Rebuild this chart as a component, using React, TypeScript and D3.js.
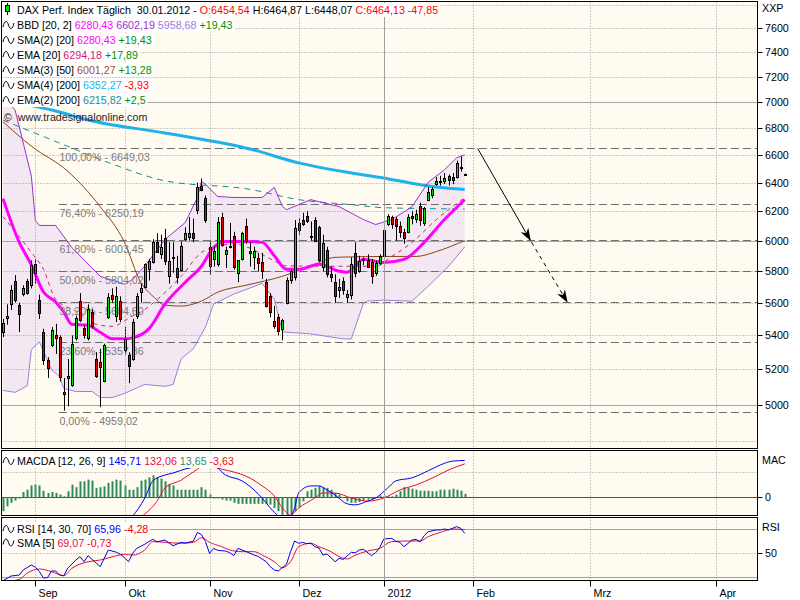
import React, { useEffect, useRef } from "react";
import * as d3 from "d3";

const FONT = "'Liberation Sans', Arial, sans-serif";
const FS = 10.7;
const BG = "#FFFBF0";

// ---------- price data (bar index 0 = 22.08.2011 ... 114 = 30.01.2012) ----------
const opens = [
  5420, 5505, 5590, 5735, 5585, 5655, 5735, 5710, 5845, 5620,
  5420, 5255, 5340, 5400, 5390, 5060, 5150, 5110, 5385, 5610,
  5445, 5385, 5545, 5260, 5245, 5130, 5510, 5650, 5520, 5610,
  5310, 5285, 5260, 5520, 5665, 5700, 5815, 5860, 5990, 5915,
  6020, 5770, 5885, 5820, 5810, 6010, 6025, 6050, 6212, 6380,
  6290, 5960, 5880, 5845, 6160, 5910, 5955, 6030, 5790, 5880,
  6100, 5920, 5895, 5885, 5860, 5730, 5640, 5485, 5510, 5440,
  5600, 5745, 5760, 6120, 6140, 6170, 6035, 6140, 6090, 5830,
  5940, 5780, 5730, 5680, 5740, 5635, 5650, 5920, 5800, 5880,
  5875, 5860, 5790, 5855, 5900, 6110, 6160, 6150, 6100, 6060,
  6060, 6170, 6150, 6240, 6120, 6280, 6310, 6390, 6410, 6410,
  6450, 6440, 6440, 6515, 6454.54,
];
const highs = [
  5500, 5590, 5710, 5775, 5600, 5710, 5750, 5870, 5880, 5650,
  5440, 5270, 5450, 5470, 5400, 5150, 5260, 5400, 5520, 5660,
  5460, 5590, 5560, 5300, 5320, 5350, 5660, 5690, 5700, 5640,
  5450, 5300, 5500, 5660, 5720, 5850, 5880, 6010, 6050, 6040,
  6080, 5990, 5990, 5900, 5995, 6090, 6160, 6150, 6400, 6430,
  6310, 6000, 5962, 6160, 6190, 5960, 6120, 6060, 5870, 6060,
  6150, 5990, 5960, 5920, 5920, 5750, 5660, 5580, 5530, 5500,
  5760, 5810, 6140, 6150, 6190, 6200, 6130, 6160, 6100, 6040,
  5960, 5830, 5780, 5750, 5760, 5680, 5890, 5990, 5900, 5890,
  5910, 5880, 5870, 5910, 6090, 6180, 6170, 6160, 6130, 6080,
  6180, 6200, 6210, 6260, 6230, 6370, 6370, 6440, 6450, 6470,
  6460, 6470, 6560, 6590, 6464.87,
];
const lows = [
  5390, 5465, 5555, 5600, 5420, 5640, 5650, 5690, 5720, 5500,
  5225, 5150, 5330, 5290, 5130, 4966, 4990, 5100, 5370, 5480,
  5380, 5370, 5440, 5150, 4985, 5125, 5500, 5600, 5480, 5480,
  5290, 5120, 5250, 5500, 5600, 5690, 5740, 5850, 5920, 5880,
  5840, 5720, 5790, 5720, 5800, 6000, 6000, 5990, 6180, 6340,
  6120, 5780, 5830, 5830, 5960, 5820, 5950, 5810, 5730, 5870,
  5980, 5830, 5810, 5800, 5750, 5570, 5510, 5440, 5400, 5370,
  5590, 5720, 5740, 6040, 6100, 6120, 6000, 5990, 5860, 5800,
  5760, 5730, 5600, 5630, 5650, 5600, 5620, 5760, 5790, 5840,
  5830, 5720, 5770, 5840, 5890, 6100, 6080, 6000, 6020, 5980,
  6050, 6110, 6120, 6100, 6100, 6270, 6290, 6380, 6380, 6390,
  6380, 6390, 6430, 6480, 6448.07,
];
const closes = [
  5475, 5520, 5680, 5620, 5530, 5690, 5660, 5840, 5790, 5536,
  5255, 5205, 5430, 5385, 5157, 5072, 5160, 5350, 5505, 5495,
  5405, 5560, 5455, 5160, 5215, 5340, 5635, 5625, 5640, 5500,
  5376, 5217, 5480, 5645, 5690, 5845, 5865, 5990, 5925, 5955,
  5865, 5865, 5890, 5760, 5962, 6055, 6055, 6020, 6370, 6350,
  6141, 5835, 5935, 6125, 5970, 5940, 5965, 5830, 5870, 6050,
  6000, 5935, 5930, 5855, 5800, 5580, 5545, 5455, 5425, 5492,
  5745, 5800, 6088, 6070, 6110, 6130, 6030, 6000, 5875, 5986,
  5785, 5760, 5640, 5700, 5680, 5655, 5846, 5790, 5865, 5870,
  5830, 5771, 5850, 5898, 6075, 6166, 6111, 6096, 6057, 6017,
  6162, 6152, 6179, 6143, 6220, 6332, 6354, 6416, 6404, 6436,
  6419, 6422, 6539, 6512, 6464.13,
];

// ---------- indicator lines (bar index, value) ----------
const sma200Idx = [0, 14, 21, 40, 61, 73, 86, 94, 102, 107, 114];
const sma200Val = [7018, 6925, 6863, 6765, 6645, 6543, 6470, 6434, 6391, 6370, 6352.27];
const ema200Idx = [0, 14, 26, 40, 61, 73, 86, 94, 114];
const ema200Val = [6862, 6689, 6546, 6414, 6353, 6281, 6246, 6225, 6215.82];
const sma50Idx = [0, 7, 16, 24, 30, 34, 37, 40, 44, 49, 53, 60, 69, 77, 82, 94, 102, 107, 114];
const sma50Val = [6849, 6666, 6482, 6232, 5989, 5729, 5641, 5585, 5579, 5610, 5666, 5710, 5767, 5845, 5890, 5896, 5896, 5928, 6001.27];
const ema20Idx = [0, 7, 10, 13, 18, 23, 27, 32, 34, 39, 44, 49, 53, 57, 61, 66, 70, 80, 92, 96, 101, 107, 114];
const ema20Val = [6163, 5922, 5812, 5622, 5548, 5467, 5455, 5518, 5542, 5641, 5767, 5922, 5962, 5980, 5950, 5880, 5835, 5832, 5832, 5896, 5989, 6143, 6294.18];
const sma20Idx = [0, 4, 7, 10, 13, 15, 17, 21, 24, 27, 30, 32, 36, 40, 45, 49, 52, 55, 60, 64, 67, 70, 73, 78, 83, 85, 89, 94, 99, 104, 109, 114];
const sma20Val = [6288, 5990, 5840, 5667, 5605, 5543, 5467, 5461, 5419, 5379, 5379, 5385, 5439, 5592, 5729, 5832, 5955, 5995, 5995, 5989, 5900, 5812, 5812, 5845, 5800, 5793, 5877, 5857, 5877, 5989, 6143, 6280.43];
const bbUpIdx = [0, 3, 5, 7, 8, 9, 13, 17, 24, 30, 32, 35, 40, 45, 48, 49, 50, 53, 57, 64, 67, 69, 70, 76, 78, 83, 89, 92, 96, 101, 105, 109, 112, 114];
const bbUpVal = [7055, 6938, 6690, 6447, 6137, 6103, 6103, 5955, 5767, 5716, 5748, 5832, 6009, 6123, 6296, 6411, 6389, 6303, 6296, 6296, 6367, 6232, 6211, 6281, 6267, 6232, 6143, 6109, 6143, 6232, 6404, 6493, 6580, 6602.19];
const bbLoIdx = [0, 3, 6, 7, 9, 12, 14, 15, 18, 22, 24, 27, 30, 35, 40, 42, 44, 47, 50, 52, 57, 64, 67, 69, 76, 84, 86, 89, 90, 94, 101, 105, 110, 114];
const bbLoVal = [5079, 5068, 5106, 5314, 5361, 5197, 5157, 5090, 5073, 5073, 5039, 5039, 5062, 5113, 5102, 5113, 5261, 5320, 5451, 5592, 5654, 5722, 5622, 5421, 5409, 5379, 5379, 5598, 5610, 5616, 5610, 5704, 5832, 5958.68];

// Fibonacci retracement
const fibLabels = ["100,00%", "76,40%", "61,80%", "50,00%", "38,20%", "23,60%", "0,00%"];
const fibValues = [6649.03, 6250.19, 6003.45, 5804.02, 5604.6, 5357.86, 4959.02];
const fibStartIdx = 13.8;

// drawn arrows (bar index, price)
const arrowSolid = [[117.2, 6649.03], [130.2, 6003.45]];
const arrowDashed = [[130.5, 5990], [139.3, 5604.6]];

// MACD
const macdIdx = [0, 10, 20, 27, 32, 35, 37, 40, 42, 45, 47, 50, 52, 55, 59, 62, 64, 66, 68, 70, 71, 72, 73, 76, 78, 80, 82, 85, 87, 90, 92, 95, 97, 101, 105, 108, 111, 114];
const macdVal = [-260, -230, -185, -120, -74, -3, 65, 88, 96, 112, 119, 127, 124, 88, 65, 29, -3, -42, -74, -90, -80, -42, 17, 45, 45, 29, 9, -26, -30, -15, -3, 37, 65, 77, 105, 128, 143, 145.71];
const sigIdx = [0, 15, 25, 30, 34, 38, 40, 44, 47, 50, 54, 57, 61, 64, 67, 69, 71, 73, 77, 79, 82, 86, 90, 94, 98, 102, 106, 110, 114];
const sigVal = [-230, -215, -175, -130, -80, -16, 37, 68, 100, 127, 111, 100, 76, 45, 5, -42, -70, -42, -3, 17, 17, -3, -15, -3, 29, 49, 76, 108, 132.06];
const histVal = [
  -55, -36, -22, -13, -5, 21, 30, 47, 50, 47,
  26, 17, 21, 17, 11, 4, 24, 50, 40, 63,
  63, 70, 66, 37, 40, 43, 57, 63, 70, 66,
  47, 30, 30, 40, 66, 70, 79, 87, 79, 74,
  63, 53, 47, 30, 30, 30, 30, 30, 30, 40,
  30, 11, -5, -5, -9, -13, -13, -22, -26, -26,
  -26, -26, -26, -26, -26, -26, -29, -42, -55, -69,
  -75, -66, -55, -40, -16, 24, 30, 37, 43, 40,
  37, 30, 17, 11, -3, -16, -22, -22, -18, -13,
  -9, -7, -3, 7, 4, 4, 4, 11, 24, 40,
  37, 34, 30, 26, 26, 26, 24, 24, 30, 30,
  30, 34, 30, 26, 13.65,
];

// RSI
const rsiIdx = [0, 2, 4, 5, 7, 8, 9, 10, 11, 12, 13, 14, 15, 16, 18, 19, 20, 21, 23, 24, 25, 26, 28, 29, 30, 31, 32, 33, 35, 36, 37, 38, 40, 41, 42, 44, 45, 47, 48, 49, 50, 51, 52, 53, 55, 56, 57, 58, 60, 62, 63, 65, 66, 67, 68, 70, 71, 72, 73, 74, 75, 76, 77, 78, 79, 80, 82, 83, 84, 86, 87, 88, 89, 91, 92, 93, 94, 96, 97, 98, 99, 101, 102, 103, 104, 105, 107, 108, 109, 110, 112, 113, 114];
const rsiVal = [27, 30.8, 31.6, 35.8, 39.9, 38, 34.4, 29.2, 29.5, 35, 35, 31.6, 31, 37.4, 44, 46.8, 42.6, 47.6, 41.5, 38.5, 45.4, 52.3, 50.4, 48.7, 45.9, 42.6, 49.5, 53.6, 57, 59.2, 61.1, 59, 60.5, 58, 55.8, 58.6, 58, 59.5, 66.8, 65, 59.2, 49.5, 53.6, 52, 51.4, 50, 47.6, 53.6, 51, 48.1, 47, 42.6, 38.5, 35.8, 35, 40.5, 50.9, 59.7, 57.8, 58.5, 57.5, 57.8, 55, 54, 48.1, 49, 42.6, 45.4, 44.5, 50.4, 50, 52.3, 52.8, 47.6, 50, 54.2, 61.3, 61.9, 59.5, 58.6, 55, 60.5, 61, 59, 64.1, 67.4, 68.8, 68.8, 69.6, 68.8, 71.5, 70.2, 65.96];
const rsiSmaIdx = [0, 4, 6, 9, 12, 15, 17, 21, 24, 28, 30, 32, 35, 37, 40, 44, 47, 49, 51, 54, 56, 59, 62, 64, 67, 69, 71, 73, 76, 78, 81, 83, 85, 87, 90, 93, 96, 100, 103, 105, 108, 111, 114];
const rsiSmaVal = [26, 28, 33.3, 36.6, 34.4, 31.1, 37.1, 42.6, 44, 47.6, 48.7, 48.1, 52.3, 59.2, 58.6, 57.8, 58.6, 62.4, 58.6, 55, 52.3, 50.9, 50.9, 48.1, 42.6, 37.7, 42.6, 55, 57.8, 55, 50.9, 46.8, 44.9, 48.1, 51.4, 53.6, 59.2, 59.7, 59.7, 63.3, 66.8, 69.6, 69.07];

// axes
const monthNames = ["Sep", "Okt", "Nov", "Dez", "2012", "Feb", "Mrz", "Apr"];
const monthIdx = [8, 30, 51, 73, 94, 116, 145, 176];
const priceTicks = [7600, 7400, 7200, 7000, 6800, 6600, 6400, 6200, 6000, 5800, 5600, 5400, 5200, 5000];
const priceGridExtra = [7800, 4800];
const priceMajor = [7000, 6000, 5000];

type Part = [string, string];

export default function App() {
  const ref = useRef<SVGSVGElement | null>(null);

  useEffect(() => {
    const svg = d3.select(ref.current as SVGSVGElement);
    svg.selectAll("*").remove();

    const L = 1.5, R = 757.5;
    const MT = 1.5, MB = 448.5;
    const CT = 450.5, CB = 515.5;
    const RT = 517.5, RB = 580.5;

    const x = d3.scaleLinear().domain([0, 114]).range([3, 464.7]);
    const y = d3.scaleLog().domain([4761, 7831]).range([MB, MT]);
    const ym = d3.scaleLinear().domain([0, 100]).range([497.3, 472]);
    const yr = d3.scaleLinear().domain([30, 70]).range([577, 528.5]);
    const px = (v: number) => Math.round(v) + 0.5;

    const defs = svg.append("defs");
    const mkClip = (id: string, a: number, b: number) =>
      defs.append("clipPath").attr("id", id).append("rect")
        .attr("x", L).attr("y", a).attr("width", R - L).attr("height", b - a);
    mkClip("cm", MT, MB); mkClip("cc", CT, CB); mkClip("cr", RT, RB);
    defs.append("marker").attr("id", "arr").attr("viewBox", "0 0 13 9")
      .attr("refX", 12).attr("refY", 4.5).attr("markerWidth", 13).attr("markerHeight", 9)
      .attr("markerUnits", "userSpaceOnUse").attr("orient", "auto")
      .append("path").attr("d", "M0,0 L13,4.5 L0,9 L4,4.5 Z").attr("fill", "#000");

    svg.append("rect").attr("width", 800).attr("height", 600).attr("fill", "#fff");
    [[MT, MB], [CT, CB], [RT, RB]].forEach(([a, b]) =>
      svg.append("rect").attr("x", L).attr("y", a).attr("width", R - L).attr("height", b - a).attr("fill", BG));

    const gm = svg.append("g").attr("clip-path", "url(#cm)");
    const gc = svg.append("g").attr("clip-path", "url(#cc)");
    const gr = svg.append("g").attr("clip-path", "url(#cr)");

    const pairs = (idx: number[], val: number[]) => idx.map((d, k) => [d, val[k]] as [number, number]);

    // Bollinger fill
    const up = pairs(bbUpIdx, bbUpVal);
    const lo = pairs(bbLoIdx, bbLoVal);
    const poly = up.concat(lo.slice().reverse());
    gm.append("path")
      .attr("d", d3.line<[number, number]>().x(d => x(d[0])).y(d => y(d[1])).curve(d3.curveLinearClosed)(poly) as string)
      .attr("fill", "#F3E8F2");

    // grids
    const dotted = "1,2";
    const gridCol = "#9a9a9a";
    const hline = (g: any, yy: number, solid: boolean, col = gridCol) =>
      g.append("line").attr("x1", L).attr("x2", R).attr("y1", px(yy)).attr("y2", px(yy))
        .attr("stroke", col).attr("stroke-width", 1).attr("stroke-dasharray", solid ? null : dotted);
    priceTicks.concat(priceGridExtra).forEach(v => hline(gm, y(v), priceMajor.includes(v), priceMajor.includes(v) ? "#a8a8a8" : gridCol));
    hline(gc, ym(100), false);
    hline(gc, ym(0), true, "#505050");
    hline(gr, yr(50), false);
    hline(gr, yr(70), true, "#a0a0a0");
    hline(gr, yr(30), true, "#a0a0a0");
    monthIdx.forEach((mi, k) => {
      const xx = px(x(mi));
      const solid = monthNames[k] === "2012";
      [[MT, MB], [CT, CB], [RT, RB]].forEach(([a, b]) =>
        svg.append("line").attr("x1", xx).attr("x2", xx).attr("y1", a).attr("y2", b)
          .attr("stroke", solid ? "#a0a0a0" : gridCol).attr("stroke-dasharray", solid ? null : dotted));
    });

    // Fibonacci
    fibValues.forEach((v, k) => {
      const yy = px(y(v));
      gm.append("line").attr("x1", x(fibStartIdx)).attr("x2", R).attr("y1", yy).attr("y2", yy)
        .attr("stroke", "#6e6e6e").attr("stroke-width", 1.2).attr("stroke-dasharray", "8,4");
    });

    // moving averages
    const drawLine = (g: any, idx: number[], val: number[], ys: any, color: string, w: number, dash: string | null, curve: any) => {
      const ln = d3.line<[number, number]>().x(d => x(d[0])).y(d => ys(d[1])).curve(curve);
      g.append("path").attr("d", ln(pairs(idx, val)) as string).attr("fill", "none")
        .attr("stroke", color).attr("stroke-width", w).attr("stroke-dasharray", dash)
        .attr("stroke-linejoin", "round");
    };
    drawLine(gm, ema200Idx, ema200Val, y, "#138f8f", 1, "6,5", d3.curveMonotoneX);
    drawLine(gm, sma200Idx, sma200Val, y, "#1cb2ea", 3, null, d3.curveMonotoneX);
    drawLine(gm, sma50Idx, sma50Val, y, "#8B4513", 1, null, d3.curveMonotoneX);
    drawLine(gm, bbUpIdx, bbUpVal, y, "#9a2fd2", 1, null, d3.curveLinear);
    drawLine(gm, bbLoIdx, bbLoVal, y, "#9580e0", 1, null, d3.curveLinear);
    drawLine(gm, ema20Idx, ema20Val, y, "#d0206e", 1, "4,4", d3.curveMonotoneX);
    drawLine(gm, sma20Idx, sma20Val, y, "#ff00ff", 3, null, d3.curveMonotoneX);

    // fib labels
    fibValues.forEach((v, k) => {
      gm.append("text").attr("x", x(fibStartIdx) + 0.5).attr("y", y(v) + 13)
        .attr("font-family", FONT).attr("font-size", FS).attr("fill", "#7c7c7c")
        .text(`${fibLabels[k]} - ${v.toFixed(2).replace(".", ",")}`);
    });

    // candles
    const gCand = gm.append("g");
    closes.forEach((c, i) => {
      const cx = Math.round(x(i));
      const o = opens[i];
      gCand.append("line").attr("x1", cx + 0.5).attr("x2", cx + 0.5)
        .attr("y1", y(highs[i])).attr("y2", y(lows[i])).attr("stroke", "#000").attr("stroke-width", 1);
      const top = Math.round(y(Math.max(o, c)));
      const bot = Math.round(y(Math.min(o, c)));
      const h = Math.max(bot - top, 1);
      gCand.append("rect").attr("x", cx - 0.5).attr("y", top + 0.5).attr("width", 2).attr("height", h)
        .attr("fill", c >= o ? "#00e000" : "#e00000").attr("stroke", "#000").attr("stroke-width", 1);
    });

    // arrows
    const aLine = (pts: number[][], dash: string | null) =>
      svg.append("line").attr("x1", x(pts[0][0])).attr("y1", y(pts[0][1]))
        .attr("x2", x(pts[1][0])).attr("y2", y(pts[1][1]))
        .attr("stroke", "#000").attr("stroke-width", 1).attr("stroke-dasharray", dash)
        .attr("marker-end", "url(#arr)");
    aLine(arrowSolid, null);
    aLine(arrowDashed, "4,4");

    // MACD
    const bw = 2;
    histVal.forEach((v, i) => {
      const xx = Math.round(x(i)) - 0.5;
      const y0 = ym(0), y1 = ym(v);
      gc.append("rect").attr("x", xx).attr("y", Math.min(y0, y1)).attr("width", bw)
        .attr("height", Math.abs(y1 - y0)).attr("fill", "#2e8b57");
    });
    drawLine(gc, sigIdx, sigVal, ym, "#e0103c", 1, null, d3.curveMonotoneX);
    drawLine(gc, macdIdx, macdVal, ym, "#0000ee", 1, null, d3.curveMonotoneX);

    // RSI
    drawLine(gr, rsiSmaIdx, rsiSmaVal, yr, "#e0103c", 1, null, d3.curveMonotoneX);
    drawLine(gr, rsiIdx, rsiVal, yr, "#0000ee", 1, null, d3.curveLinear);

    // panel borders
    [[MT, MB], [CT, CB], [RT, RB]].forEach(([a, b]) =>
      svg.append("rect").attr("x", L).attr("y", a).attr("width", R - L).attr("height", b - a)
        .attr("fill", "none").attr("stroke", "#000").attr("stroke-width", 1));

    // right axis
    const axText = (xx: number, yy: number, t: string) =>
      svg.append("text").attr("x", xx).attr("y", yy).attr("font-family", FONT).attr("font-size", FS)
        .attr("fill", "#000").text(t);
    const axTick = (yy: number) =>
      svg.append("line").attr("x1", R).attr("x2", R + 5).attr("y1", px(yy)).attr("y2", px(yy)).attr("stroke", "#000");
    priceTicks.forEach(v => { axTick(y(v)); axText(765, y(v) + 4, String(v)); });
    axText(762, 12, "XXP");
    axText(762, 464, "MAC");
    axTick(ym(0)); axText(765, ym(0) + 4, "0");
    axText(762, 531, "RSI");
    axTick(yr(50)); axText(765, yr(50) + 4, "50");

    // x axis
    monthIdx.forEach((mi, k) => {
      const xx = px(x(mi));
      svg.append("line").attr("x1", xx).attr("x2", xx).attr("y1", RB).attr("y2", RB + 6).attr("stroke", "#000");
      axText(xx + 3, 597, monthNames[k]);
    });

    // legends
    const legendRow = (yb: number, parts: Part[], icon: "wave" | "candle") => {
      const g = svg.append("g");
      const bg = g.append("rect").attr("fill", "#fff");
      const t = g.append("text").attr("x", 17).attr("y", yb).attr("font-family", FONT)
        .attr("font-size", FS).style("white-space", "pre");
      parts.forEach(([s, c]) => t.append("tspan").attr("fill", c).text(s));
      const w = (t.node() as SVGTextElement).getComputedTextLength();
      bg.attr("x", 2).attr("y", yb - 11).attr("width", w + 17).attr("height", 14);
      if (icon === "wave") {
        g.append("path").attr("d", `M3,${yb - 2} C4.5,${yb - 9} 7,${yb - 9} 8.5,${yb - 4} S12.5,${yb + 1} 14,${yb - 6}`)
          .attr("fill", "none").attr("stroke", "#000").attr("stroke-width", 1);
      } else {
        g.append("line").attr("x1", 7.5).attr("x2", 7.5).attr("y1", yb - 11).attr("y2", yb + 1).attr("stroke", "#000");
        g.append("rect").attr("x", 5.5).attr("y", yb - 8.5).attr("width", 4).attr("height", 6)
          .attr("fill", "#00e000").attr("stroke", "#000");
      }
    };
    const K = "#000", GR = "#009000", RD = "#ff0000";
    legendRow(14, [["DAX Perf. Index Täglich  30.01.2012 - ", K], ["O:6454,54", RD], [" H:6464,87 L:6448,07 ", K], ["C:6464,13 -47,85", RD]], "candle");
    legendRow(29, [["BBD [20, 2] ", K], ["6280,43 ", "#ff00ff"], ["6602,19 ", "#9a2fd2"], ["5958,68 ", "#9580e0"], ["+19,43", GR]], "wave");
    legendRow(44, [["SMA(2) [20] ", K], ["6280,43 ", "#ff00ff"], ["+19,43", GR]], "wave");
    legendRow(59, [["EMA [20] ", K], ["6294,18 ", "#d0206e"], ["+17,89", GR]], "wave");
    legendRow(74, [["SMA(3) [50] ", K], ["6001,27 ", "#a0522d"], ["+13,28", GR]], "wave");
    legendRow(89, [["SMA(4) [200] ", K], ["6352,27 ", "#1cb2ea"], ["-3,93", RD]], "wave");
    legendRow(104, [["EMA(2) [200] ", K], ["6215,82 ", "#138f8f"], ["+2,5", GR]], "wave");
    svg.append("text").attr("x", 4).attr("y", 121).attr("font-family", FONT).attr("font-size", FS)
      .attr("fill", "#222").style("white-space", "pre").text("©  www.tradesignalonline.com");
    legendRow(465, [["MACDA [12, 26, 9] ", K], ["145,71 ", "#0000ee"], ["132,06 ", "#e0103c"], ["13,65 ", "#2e8b57"], ["-3,63", RD]], "wave");
    legendRow(533, [["RSI [14, 30, 70] ", K], ["65,96 ", "#0000ee"], ["-4,28", RD]], "wave");
    legendRow(546.5, [["SMA [5] ", K], ["69,07 ", "#e0103c"], ["-0,73", RD]], "wave");
  }, []);

  return (
    <svg ref={ref} width={800} height={600}
      style={{ position: "absolute", left: 0, top: 0, display: "block" }} />
  );
}
